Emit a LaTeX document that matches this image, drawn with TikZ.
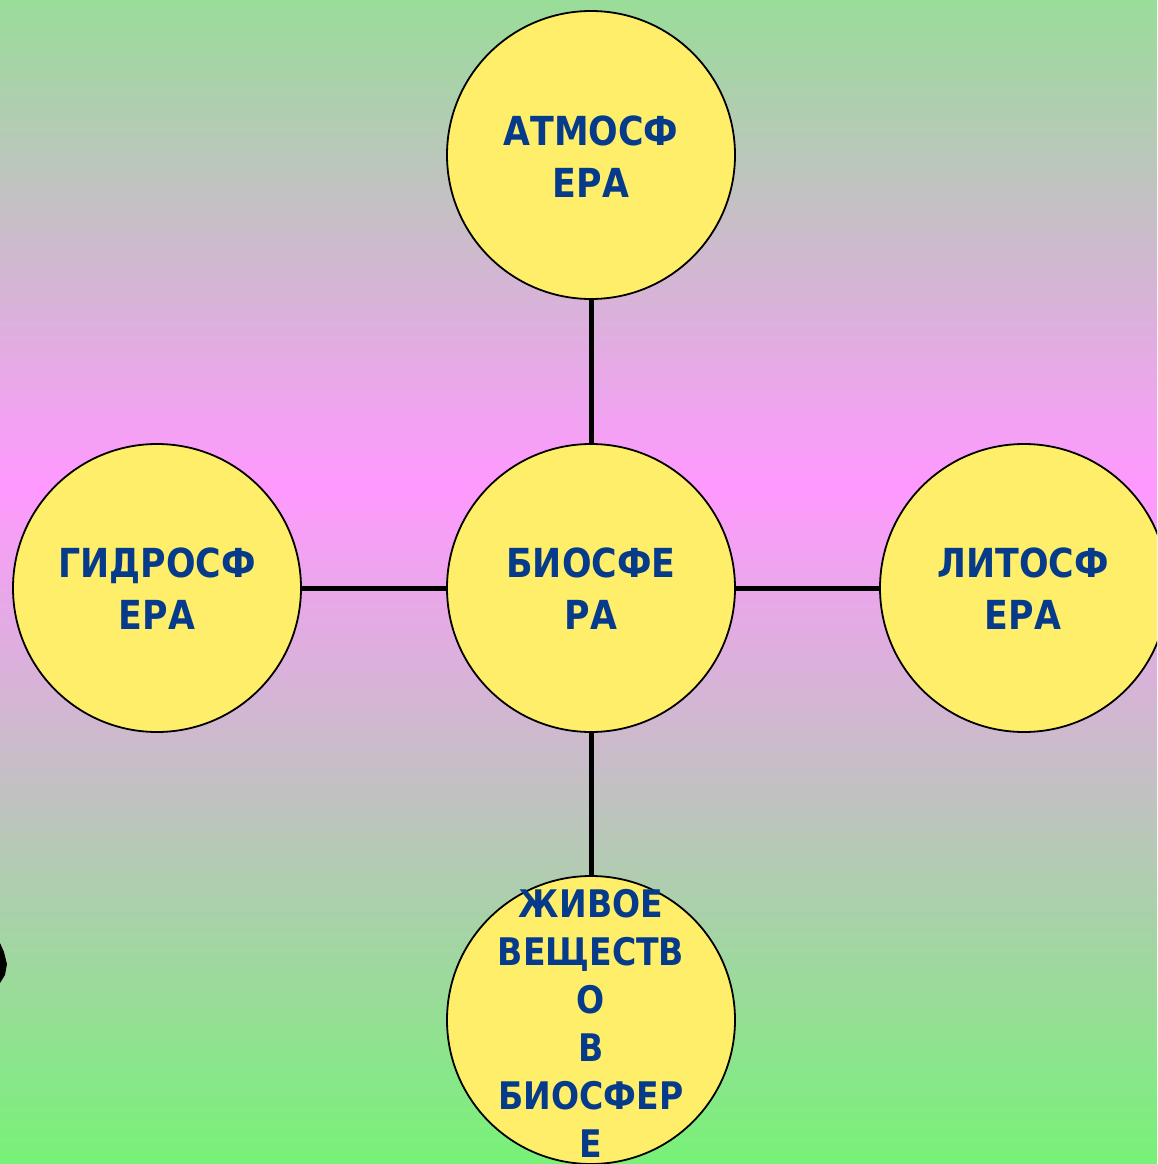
\documentclass[tikz,border=0pt]{standalone}
\usepackage{fontspec}
\setmainfont{DejaVu Sans}[FakeStretch=0.87]
\definecolor{bggreen}{HTML}{99DD99}
\definecolor{bgpink}{HTML}{FF99FF}
\definecolor{bggreenb}{HTML}{77F277}
\definecolor{sphere}{HTML}{FFEE6A}
\definecolor{txt}{HTML}{063A8A}
\tikzset{
  sphere/.style={circle, draw=black, line width=1.8pt, fill=sphere, minimum size=288pt, inner sep=0pt},
  lbl/.style={text=txt, font=\fontsize{40}{52}\selectfont\bfseries, align=center, inner sep=0pt},
  lblb/.style={text=txt, font=\fontsize{38}{48}\selectfont\bfseries, align=center, inner sep=0pt},
  link/.style={line width=5pt, black}
}
\begin{document}
\begin{tikzpicture}[x=1pt,y=-1pt]
\useasboundingbox (0,0) rectangle (1157,1164);
\clip (0,0) rectangle (1157,1164);
\shade[top color=bggreen, bottom color=bgpink] (0,0) rectangle (1157,486);
\shade[top color=bgpink, bottom color=bggreenb] (0,485) rectangle (1157,1164);
\fill[black] (0,943) -- (4,952) -- (7,964) -- (5,975) -- (0,983) -- cycle;
\node[sphere] (top) at (591,155) {};
\node[sphere] (mid) at (591,588) {};
\node[sphere] (left) at (157,588) {};
\node[sphere] (right) at (1024,588) {};
\node[sphere] (bot) at (591,1020) {};
\draw[link] (top.south) -- (mid.north);
\draw[link] (left.east) -- (mid.west);
\draw[link] (mid.east) -- (right.west);
\draw[link] (mid.south) -- (bot.north);
\node[lbl] (ttop) at (591,157) {АТМОСФ\\ЕРА};
\node[lbl] (tmid) at (591,589) {БИОСФЕ\\РА};
\node[lbl] (tleft) at (157,589) {ГИДРОСФ\\ЕРА};
\node[lbl] (tright) at (1023,589) {ЛИТОСФ\\ЕРА};
\node[lblb] (tbot) at (591,1023) {ЖИВОЕ\\ВЕЩЕСТВ\\О\\В\\БИОСФЕР\\Е};
\end{tikzpicture}
\end{document}
